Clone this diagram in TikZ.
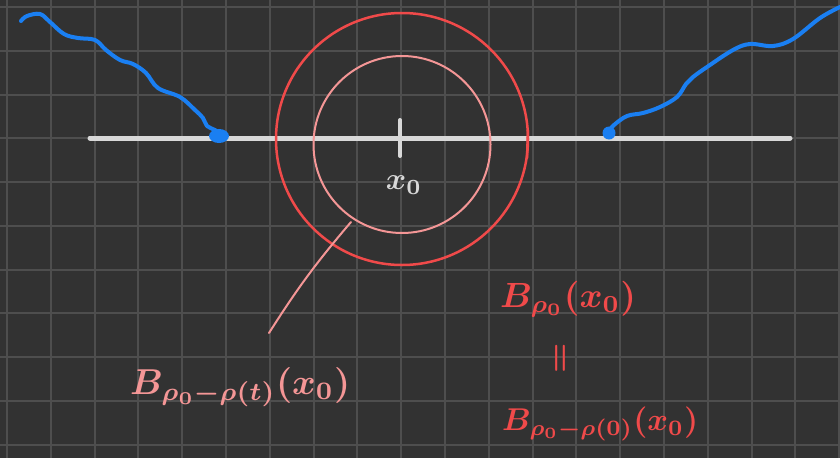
\documentclass[tikz,border=0pt]{standalone}
\usepackage{amsmath}
\usepackage{graphicx}
\definecolor{bg}{HTML}{323232}
\definecolor{gridc}{HTML}{4E4E4E}
\definecolor{axisc}{HTML}{D8D8D8}
\definecolor{bluec}{HTML}{1A7FF2}
\definecolor{redc}{HTML}{F04A4A}
\definecolor{pinkc}{HTML}{F49696}
\tikzset{
  gridline/.style={gridc, line width=2pt},
  axisline/.style={axisc, line width=5pt, line cap=round},
  bluecurve/.style={bluec, line width=4pt, line cap=round, line join=round},
  outercirc/.style={redc, line width=2.5pt},
  innercirc/.style={pinkc, line width=2pt},
  redlabel/.style={text=redc, inner sep=0pt, font=\boldmath},
  pinklabel/.style={text=pinkc, inner sep=0pt, font=\boldmath},
}
\begin{document}
\begin{tikzpicture}[x=1pt,y=-1pt]
\fill[bg] (0,0) rectangle (840,458);
\useasboundingbox (0,0) rectangle (840,458);
% grid
\foreach \i in {0,...,19} \draw[gridline] ({7+43.8*\i},0) -- ({7+43.8*\i},458);
\foreach \j in {0,...,10} \draw[gridline] (0,{7+43.75*\j}) -- (840,{7+43.75*\j});
% axis
\coordinate (axL) at (90,138);
\coordinate (axR) at (790,138);
\draw[axisline] (axL) -- (axR);
% circles
\draw[outercirc] (402,139) circle (126);
\draw[innercirc] (402,144.5) circle (88.5);
% red tick on outer circle
\coordinate (rt1) at (528,130);
\coordinate (rt2) at (527,158);
\draw[redc, line width=2.5pt, line cap=round] (rt1) -- (rt2);
% center tick
\coordinate (tk1) at (400,120);
\coordinate (tk2) at (400,156);
\draw[axisc, line width=4pt, line cap=round] (tk1) -- (tk2);
\node[text=axisc, inner sep=0pt, font=\boldmath] (x0) at (404,185) {\scalebox{3.1}{$x_0$}};
% blue curves
\draw[bluecurve] plot[smooth, tension=0.6] coordinates {
 (21,21) (27,16) (40,14) (50,22) (64,34) (78,38) (95,40) (106,50) (120,60)
 (133,64) (146,73) (158,88) (180,97) (195,110) (203,118) (207,126) (215,130) (220,134)};
\fill[bluec] (219,136) ellipse (10 and 7);
\draw[bluecurve] plot[smooth, tension=0.6] coordinates {
 (609,131) (614,125) (627,116) (643,113) (660,107) (677,97) (686,84) (693,77)
 (707,67) (733,50) (750,44) (773,46) (793,39) (820,18) (840,7)};
\fill[bluec] (609,133) circle (6.5);
% pointer line
\coordinate (pA) at (269,333);
\coordinate (pB) at (351,222);
\draw[pinkc, line width=2pt, line cap=round] (pA) to[bend left=4] (pB);
% labels
\node[pinklabel, anchor=west] (lblt) at (130,387) {\scalebox{3.6}{$B_{\rho_0-\rho(t)}(x_0)$}};
\node[redlabel, anchor=west] (lbl1) at (500,299) {\scalebox{3.5}{$B_{\rho_0}(x_0)$}};
\node[redlabel, rotate=90] (eqs) at (562,358) {\scalebox{3.4}{$=$}};
\node[redlabel, anchor=west] (lbl2) at (502,424) {\scalebox{3.15}{$B_{\rho_0-\rho(0)}(x_0)$}};
\end{tikzpicture}
\end{document}
